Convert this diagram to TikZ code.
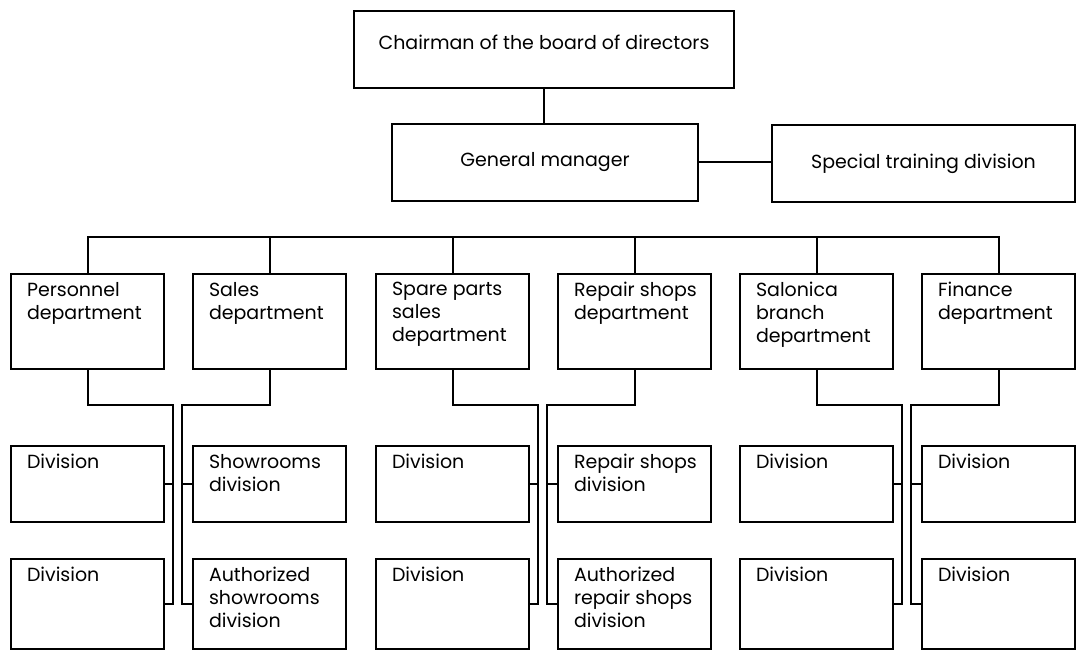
\documentclass[tikz,border=0pt]{standalone}
\usepackage{fontspec}
\setmainfont{Poppins}
\newcommand{\cell}[2]{\parbox[t][#1][t]{76.5pt}{\raggedright\leftskip=8pt #2}}
\begin{document}
\begin{tikzpicture}[x=0.5pt, y=-0.5pt, font=\fontsize{9.5}{11.5}\selectfont, box/.style={draw, line width=1pt, rectangle, anchor=north west}, head/.style={box, inner sep=0pt, minimum width=#1, minimum height=38.5pt}, cellbox/.style={box, inner xsep=0pt, inner ysep=4pt}, wire/.style={line width=1pt}]
    \useasboundingbox (0,0) rectangle (1076,663);
    \node[head=190pt, text depth=7pt] (chair) at (353,10) {Chairman of the board of directors};
    \node[head=153pt] (gm) at (391,123) {General manager};
    \node[head=151.5pt] (train) at (771,124) {Special training division};
    \node[cellbox] (pers) at (10,273) {\cell{39.5pt}{Personnel\\department}};
    \node[cellbox] (sales) at (192,273) {\cell{39.5pt}{Sales\\department}};
    \node[cellbox] (spare) at (375,273) {\cell{39.5pt}{Spare parts\\sales\\department}};
    \node[cellbox] (repair) at (557,273) {\cell{39.5pt}{Repair shops\\department}};
    \node[cellbox] (salon) at (739,273) {\cell{39.5pt}{Salonica\\branch\\department}};
    \node[cellbox] (fin) at (921,273) {\cell{39.5pt}{Finance\\department}};
    \node[cellbox] (persA) at (10,445) {\cell{30pt}{Division}};
    \node[cellbox] (persB) at (10,558) {\cell{37pt}{Division}};
    \node[cellbox] (salesA) at (192,445) {\cell{30pt}{Showrooms\\division}};
    \node[cellbox] (salesB) at (192,558) {\cell{37pt}{Authorized\\showrooms\\division}};
    \node[cellbox] (spareA) at (375,445) {\cell{30pt}{Division}};
    \node[cellbox] (spareB) at (375,558) {\cell{37pt}{Division}};
    \node[cellbox] (repairA) at (557,445) {\cell{30pt}{Repair shops\\division}};
    \node[cellbox] (repairB) at (557,558) {\cell{37pt}{Authorized\\repair shops\\division}};
    \node[cellbox] (salonA) at (739,445) {\cell{30pt}{Division}};
    \node[cellbox] (salonB) at (739,558) {\cell{37pt}{Division}};
    \node[cellbox] (finA) at (921,445) {\cell{30pt}{Division}};
    \node[cellbox] (finB) at (921,558) {\cell{37pt}{Division}};
    \coordinate (bus) at (0,237);
    \coordinate (persT) at (173,405);
    \coordinate (salesT) at (182,405);
    \coordinate (spareT) at (538,405);
    \coordinate (repairT) at (547,405);
    \coordinate (salonT) at (902,405);
    \coordinate (finT) at (911,405);
    \draw[wire] (chair.south) -- (chair.south |- gm.north);
    \draw[wire] (gm.east) -- (gm.east -| train.west);
    \draw[wire] (pers.north) -- (pers.north |- bus) -- (fin.north |- bus) -- (fin.north);
    \foreach \d in {sales,spare,repair,salon}
        \draw[wire] (\d.north) -- (\d.north |- bus);
    \draw[wire] (pers.south) |- (persT) |- (persB.east);
    \draw[wire] (persT) |- (persA.east);
    \draw[wire] (sales.south) |- (salesT) |- (salesB.west);
    \draw[wire] (salesT) |- (salesA.west);
    \draw[wire] (spare.south) |- (spareT) |- (spareB.east);
    \draw[wire] (spareT) |- (spareA.east);
    \draw[wire] (repair.south) |- (repairT) |- (repairB.west);
    \draw[wire] (repairT) |- (repairA.west);
    \draw[wire] (salon.south) |- (salonT) |- (salonB.east);
    \draw[wire] (salonT) |- (salonA.east);
    \draw[wire] (fin.south) |- (finT) |- (finB.west);
    \draw[wire] (finT) |- (finA.west);
\end{tikzpicture}
\end{document}
